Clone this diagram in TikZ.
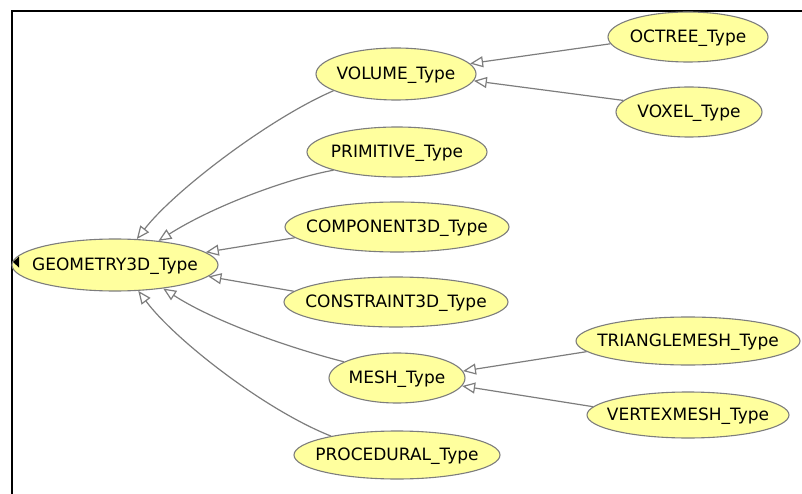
\documentclass[tikz,border=0pt]{standalone}
\usepackage{fontspec}
\setmainfont{DejaVu Sans}
\usetikzlibrary{shapes.geometric,arrows.meta}
\definecolor{nodefill}{RGB}{255,255,158}
\definecolor{edgegray}{RGB}{125,125,125}
\tikzset{
  cls/.style={ellipse, draw=edgegray, line width=1.1pt, fill=nodefill, inner sep=0pt,
    label={[lbl]center:#1}},
  lbl/.style={inner sep=0pt, font=\fontsize{17}{20}\selectfont, text=black, yshift=-1.5pt},
  isa/.style={draw=edgegray, line width=1.2pt,
    -{Triangle[open, length=13pt, width=11pt, fill=white]}},
  frameline/.style={draw=black, line width=2.2pt}
}
\begin{document}
\begin{tikzpicture}[x=1pt, y=-1pt]
\useasboundingbox (0,0) rectangle (802,494);
% frame
\coordinate (fr0) at (12,494);
\coordinate (fr1) at (12,11);
\coordinate (fr2) at (802,11);
\draw[frameline] (fr0) -- (fr1) -- (fr2);
% nodes
\node[cls={GEOMETRY3D\_Type}, minimum width=206pt, minimum height=52pt] (geo) at (115,265) {};
\node[cls={VOLUME\_Type}, minimum width=160pt, minimum height=52pt] (vol) at (396,74) {};
\node[cls={OCTREE\_Type}, minimum width=160pt, minimum height=50pt] (oct) at (688,37) {};
\node[cls={VOXEL\_Type}, minimum width=146pt, minimum height=50pt] (vox) at (689,112) {};
\node[cls={PRIMITIVE\_Type}, minimum width=180pt, minimum height=50pt] (prim) at (397,152) {};
\node[cls={COMPONENT3D\_Type}, minimum width=224pt, minimum height=50pt] (comp) at (397,227) {};
\node[cls={CONSTRAINT3D\_Type}, minimum width=224pt, minimum height=50pt] (cons) at (396,302) {};
\node[cls={MESH\_Type}, minimum width=136pt, minimum height=50pt] (mesh) at (397,378) {};
\node[cls={TRIANGLEMESH\_Type}, minimum width=224pt, minimum height=48pt] (tri) at (688,341) {};
\node[cls={VERTEXMESH\_Type}, minimum width=202pt, minimum height=46pt] (vert) at (688,415) {};
\node[cls={PROCEDURAL\_Type}, minimum width=206pt, minimum height=48pt] (proc) at (397,455) {};
% collapse marker
\coordinate (m1) at (13,262);
\coordinate (m2) at (19,256.5);
\coordinate (m3) at (19,267.5);
\fill[black] (m1) -- (m2) -- (m3) -- cycle;
% edges
\draw[isa] (vol.195.7) .. controls (270,118) and (175,190) .. (geo.50.6);
\draw[isa] (prim.196.7) .. controls (290,178) and (215,205) .. (geo.29.4);
\draw[isa] (comp.186.3) -- (geo.8);
\draw[isa] (cons.174.2) -- (geo.-7.4);
\draw[isa] (mesh.163) .. controls (290,348) and (215,322) .. (geo.-26.6);
\draw[isa] (proc.164.5) .. controls (265,410) and (175,340) .. (geo.-48.5);
\draw[isa] (oct.185.9) -- (vol.8.1);
\draw[isa] (vox.170.4) -- (vol.-5.8);
\draw[isa] (tri.186.8) -- (mesh.6.9);
\draw[isa] (vert.175.2) -- (mesh.-7.8);
\end{tikzpicture}
\end{document}
